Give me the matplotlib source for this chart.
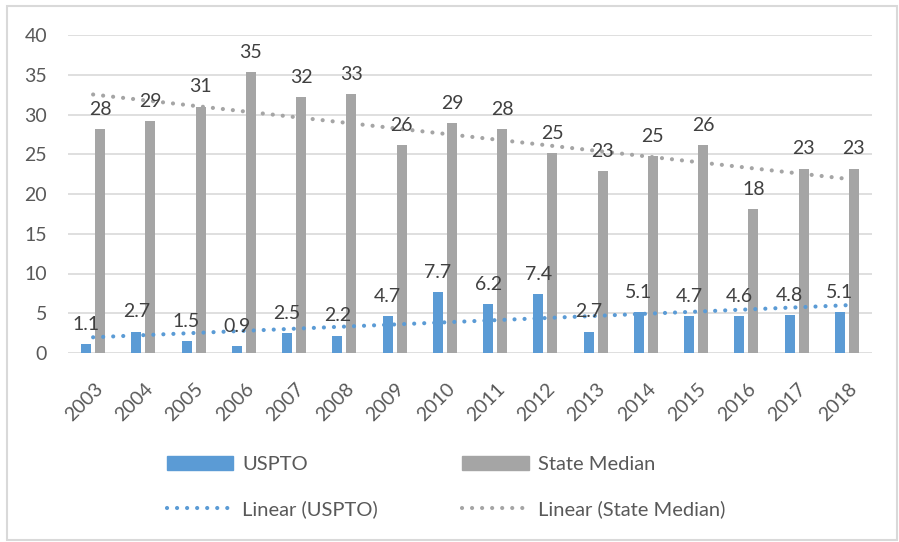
import matplotlib.pyplot as plt
import numpy as np
from matplotlib.patches import Rectangle, Patch
from matplotlib.lines import Line2D

plt.rcParams['font.family'] = ['Lato', 'DejaVu Sans']

# === Data ===
years = ['2003', '2004', '2005', '2006', '2007', '2008', '2009', '2010',
         '2011', '2012', '2013', '2014', '2015', '2016', '2017', '2018']
uspto = [1.1, 2.7, 1.5, 0.9, 2.5, 2.2, 4.7, 7.7, 6.2, 7.4, 2.7, 5.1, 4.7, 4.6, 4.8, 5.1]
state_median = [28.2, 29.2, 31.0, 35.3, 32.2, 32.6, 26.2, 28.9, 28.2, 25.2, 22.9, 24.8,
                26.2, 18.1, 23.2, 23.2]
yticks = [0, 5, 10, 15, 20, 25, 30, 35, 40]

blue = '#5B9BD5'
gray = '#A5A5A5'
text_col = '#595959'
label_col = '#404040'

fig = plt.figure(figsize=(8.99, 5.42), dpi=100)
ax = fig.add_axes([68 / 899, 1 - 353 / 542, (872 - 68) / 899, (353 - 35) / 542])

x = np.arange(len(years))
w = 0.2
off = 0.14
ax.bar(x - off, uspto, width=w, color=blue, zorder=3)
ax.bar(x + off, state_median, width=w, color=gray, zorder=3)

# data labels
for xi, v in zip(x, uspto):
    ax.annotate(f'{v:.1f}', (xi - off, v), xytext=(0, 8), textcoords='offset points',
                ha='center', va='bottom', fontsize=14, color=label_col, zorder=5)
for xi, v in zip(x, state_median):
    ax.annotate(f'{round(v):d}', (xi + off, v), xytext=(0, 8), textcoords='offset points',
                ha='center', va='bottom', fontsize=14, color=label_col, zorder=5)

# linear trend lines
dots = (0, (0.01, 2.4))
for vals, col in [(uspto, blue), (state_median, gray)]:
    k, b = np.polyfit(x, vals, 1)
    xt = np.array([0, len(x) - 1])
    ax.plot(xt, k * xt + b, color=col, lw=3, linestyle=dots,
            dash_capstyle='round', zorder=4)

ax.set_xlim(-0.5, len(x) - 0.5)
ax.set_ylim(0, 40)
ax.set_yticks(yticks)
ax.set_xticks(x)
ax.tick_params(axis='both', length=0, labelsize=14, labelcolor=text_col)
ax.tick_params(axis='y', pad=15)
ax.set_xticklabels([])
# year labels, rotated, with their top-right end just right of the category
for xi, yr in zip(x, years):
    ax.annotate(yr, (xi, 0), xycoords=('data', 'axes fraction'),
                xytext=(5, -24), textcoords='offset points',
                rotation=45, ha='right', va='center', rotation_mode='anchor',
                fontsize=14, color=text_col, annotation_clip=False)
ax.yaxis.grid(True, color='#D9D9D9', lw=1.2, zorder=0)
for s in ax.spines.values():
    s.set_visible(False)

# legend
handles = [
    Patch(color=blue),
    Line2D([0], [0], color=blue, lw=3, linestyle=dots, dash_capstyle='round'),
    Patch(color=gray),
    Line2D([0], [0], color=gray, lw=3, linestyle=dots, dash_capstyle='round'),
]
names = ['USPTO', 'Linear (USPTO)', 'State Median', 'Linear (State Median)']
leg = fig.legend(handles, names, ncol=2, loc='center', bbox_to_anchor=(446 / 899, 1 - 487 / 542),
                 frameon=False, fontsize=14.5, handlelength=3.3, handletextpad=0.45,
                 columnspacing=4.2, labelspacing=1.35)
for t in leg.get_texts():
    t.set_color(text_col)

# chart border
fig.patches.append(Rectangle((7 / 899, 1 - 540 / 542), 890 / 899, 534 / 542,
                             transform=fig.transFigure, fill=False,
                             edgecolor='#D9D9D9', lw=1.5))

fig.savefig('out.png', dpi=100)
